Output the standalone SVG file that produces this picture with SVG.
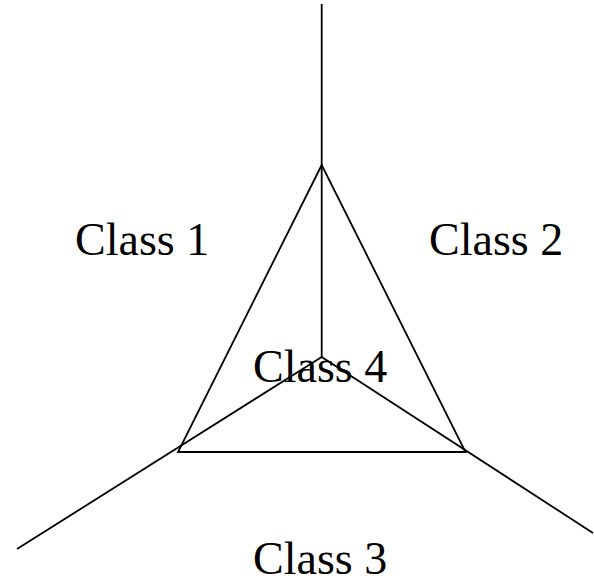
<svg xmlns="http://www.w3.org/2000/svg" width="594" height="580" viewBox="0 0 594 580">
<style>
.l{stroke:#000;stroke-width:1.8;fill:none;stroke-linecap:butt}
.t{font-family:"Liberation Serif","Times New Roman",serif;font-size:46px;fill:#000}
</style>
<rect width="594" height="580" fill="#fff"/>
<g id="connectors">
<line class="l" x1="321.7" y1="4" x2="321.7" y2="357"/>
<line class="l" x1="321.7" y1="357" x2="17" y2="549"/>
<line class="l" x1="321.7" y1="357" x2="593" y2="533"/>
<polygon class="l" points="321.7,165 178,452 465.5,452" stroke-linejoin="miter"/>
</g>
<g id="class1"><text class="t" x="75" y="255">Class 1</text></g>
<g id="class2"><text class="t" x="429" y="255">Class 2</text></g>
<g id="class4"><text class="t" x="253" y="382">Class 4</text></g>
<g id="class3"><text class="t" x="253" y="574">Class 3</text></g>
</svg>
